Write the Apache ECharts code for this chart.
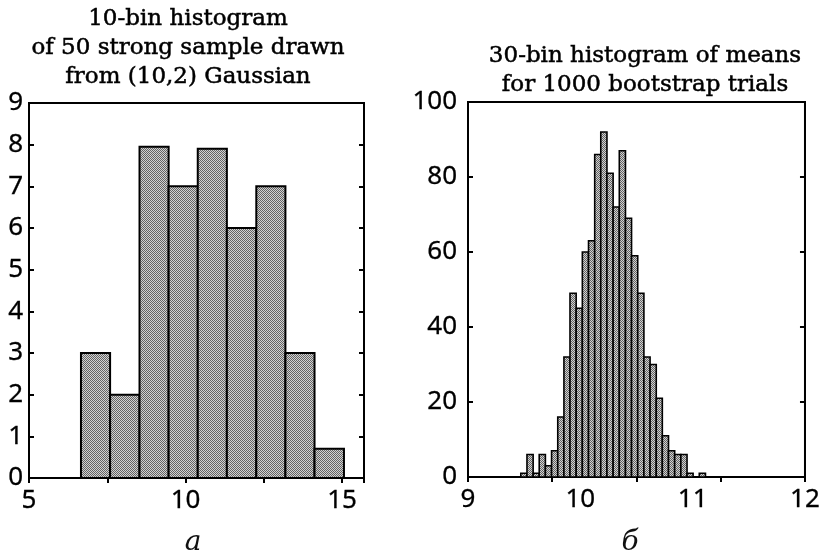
<!DOCTYPE html>
<html>
<head>
<meta charset="utf-8">
<title>Bootstrap histograms</title>
<script src="https://cdn.jsdelivr.net/npm/echarts@6/dist/echarts.min.js"></script>
<style>
  html, body { margin: 0; padding: 0; background: #fff; }
  #chart { width: 823px; height: 552px; }
</style>
</head>
<body>
<div id="chart"></div>
<script>
// Panel a: 50-point sample, bin edges and counts
const sampleBinEdges = [6.66, 7.59, 8.53, 9.46, 10.39, 11.32, 12.26, 13.19, 14.12, 15.06];
const sampleCounts = [3, 2, 7.95, 7, 7.9, 6, 7, 3, 0.7];

// Panel б: bootstrap means, bin edges and counts
const meansBinEdges = [
  9.470, 9.525, 9.580, 9.634, 9.689, 9.744, 9.799, 9.854, 9.908, 9.963,
  10.018, 10.073, 10.128, 10.182, 10.237, 10.292, 10.347, 10.402, 10.456, 10.511,
  10.566, 10.621, 10.676, 10.730, 10.785, 10.840, 10.895, 10.950, 11.004, 11.059, 11.114
];
const meansCounts = [
  1, 6, 1, 6, 3, 7, 16, 32, 49, 45,
  60, 63, 86, 92, 81, 72, 87, 69, 59, 49,
  32, 30, 21, 11, 7, 6, 6, 1, 0, 1
];

// Axis tick labels
const sampleXLabels = [5, 10, 15];
const meansXLabels = [9, 10, 11, 12];

// Stippled gray fill for the bars
const tile = document.createElement('canvas');
tile.width = 2; tile.height = 2;
const tc = tile.getContext('2d');
tc.fillStyle = '#d2d2d2'; tc.fillRect(0, 0, 2, 2);
tc.fillStyle = '#636363'; tc.fillRect(0, 0, 1, 1); tc.fillRect(1, 1, 1, 1);
const stipple = { image: tile, repeat: 'repeat' };

function toRows(edges, counts) {
  return counts.map((v, i) => [edges[i], edges[i + 1], v]);
}

function histRenderer(lineWidth) {
  return function (params, api) {
    const h = api.value(2);
    if (h <= 0) return null;
    const p0 = api.coord([api.value(0), h]);
    const p1 = api.coord([api.value(1), 0]);
    return {
      type: 'rect',
      shape: { x: p0[0], y: p0[1], width: p1[0] - p0[0], height: p1[1] - p0[1] },
      style: { fill: stipple, stroke: '#000', lineWidth: lineWidth }
    };
  };
}

const tickFont = { fontFamily: 'Noto Sans', fontSize: 26, color: '#000', textBorderColor: '#000', textBorderWidth: 0.3 };
const line = { show: true, lineStyle: { color: '#000', width: 2 } };
const inTick = { show: true, inside: true, length: 5, lineStyle: { color: '#000', width: 2 } };
const noTick = { show: false };
const titleFont = {
  fontFamily: 'DejaVu Serif', fontSize: 23, lineHeight: 29, fontWeight: 'normal',
  color: '#000', textBorderColor: '#000', textBorderWidth: 0.5
};
const letterFont = { fontFamily: 'DejaVu Serif', fontSize: 28, fontStyle: 'italic', fontWeight: 'normal', color: '#111' };

const chart = echarts.init(document.getElementById('chart'), null, { renderer: 'canvas' });

chart.setOption({
  animation: false,
  backgroundColor: '#fff',
  title: [
    { text: '10-bin histogram\nof 50 strong sample drawn\nfrom (10,2) Gaussian', left: 183, top: 0, textAlign: 'center', textStyle: titleFont },
    { text: '30-bin histogram of means\nfor 1000 bootstrap trials', left: 640, top: 37, textAlign: 'center', textStyle: titleFont },
    { text: 'а', left: 188, top: 524, textAlign: 'center', textStyle: letterFont },
    { text: 'б', left: 625, top: 524, textAlign: 'center', textStyle: letterFont }
  ],
  grid: [
    { left: 29, right: 459, top: 103, bottom: 74, show: true, borderColor: '#000', borderWidth: 2 },
    { left: 468, right: 17, top: 102, bottom: 75, show: true, borderColor: '#000', borderWidth: 2 }
  ],
  xAxis: [
    {
      gridIndex: 0, type: 'value', min: 5, max: 15.7, interval: 2.5, position: 'bottom',
      axisLine: line, axisTick: noTick, splitLine: { show: false },
      axisLabel: Object.assign({ margin: 10, formatter: v => sampleXLabels.includes(v) ? String(v) : '' }, tickFont)
    },
    {
      gridIndex: 0, type: 'value', min: 5, max: 15.7, interval: 2.5, position: 'top',
      axisLine: line, axisTick: inTick, axisLabel: { show: false }, splitLine: { show: false }
    },
    {
      gridIndex: 1, type: 'value', min: 9, max: 12, interval: 1, position: 'bottom',
      axisLine: line, axisTick: noTick, splitLine: { show: false },
      axisLabel: Object.assign({ margin: 10, formatter: v => meansXLabels.includes(v) ? String(v) : '' }, tickFont)
    },
    {
      gridIndex: 1, type: 'value', min: 9, max: 12, interval: 0.75, position: 'top',
      axisLine: line, axisTick: inTick, axisLabel: { show: false }, splitLine: { show: false }
    }
  ],
  yAxis: [
    {
      gridIndex: 0, type: 'value', min: 0, max: 9, interval: 1, position: 'left',
      axisLine: line, axisTick: inTick, splitLine: { show: false },
      axisLabel: Object.assign({ margin: 6 }, tickFont)
    },
    {
      gridIndex: 0, type: 'value', min: 0, max: 9, interval: 1, position: 'right',
      axisLine: line, axisTick: inTick, splitLine: { show: false }, axisLabel: { show: false }
    },
    {
      gridIndex: 1, type: 'value', min: 0, max: 100, interval: 20, position: 'left',
      axisLine: line, axisTick: inTick, splitLine: { show: false },
      axisLabel: Object.assign({ margin: 11 }, tickFont)
    },
    {
      gridIndex: 1, type: 'value', min: 0, max: 100, interval: 20, position: 'right',
      axisLine: line, axisTick: inTick, splitLine: { show: false }, axisLabel: { show: false }
    }
  ],
  series: [
    {
      type: 'custom', xAxisIndex: 0, yAxisIndex: 0,
      renderItem: histRenderer(2),
      encode: { x: [0, 1], y: 2 },
      data: toRows(sampleBinEdges, sampleCounts)
    },
    {
      type: 'custom', xAxisIndex: 2, yAxisIndex: 2,
      renderItem: histRenderer(1.6),
      encode: { x: [0, 1], y: 2 },
      data: toRows(meansBinEdges, meansCounts)
    }
  ]
});
</script>
</body>
</html>
